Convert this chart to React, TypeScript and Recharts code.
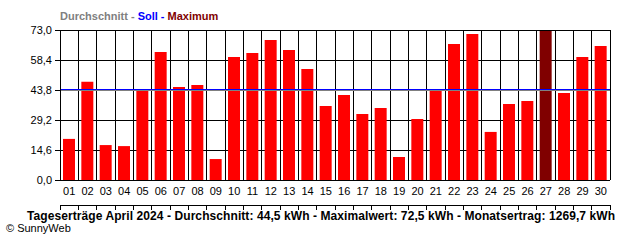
import { BarChart, Bar, XAxis, YAxis, CartesianGrid, ReferenceLine, Cell } from "recharts";

const days = [
  "01", "02", "03", "04", "05", "06", "07", "08", "09", "10",
  "11", "12", "13", "14", "15", "16", "17", "18", "19", "20",
  "21", "22", "23", "24", "25", "26", "27", "28", "29", "30",
];
const yields = [
  20.0, 47.8, 17.0, 16.5, 44.0, 62.3, 45.3, 46.2, 10.2, 59.9,
  61.8, 68.1, 63.3, 54.0, 36.0, 41.4, 32.1, 35.0, 11.2, 29.7,
  44.0, 66.2, 71.1, 23.4, 37.0, 38.4, 72.5, 42.3, 59.9, 65.2,
];
const yTicks = [0, 14.6, 29.2, 43.8, 58.4, 73.0];
const dayBounds = [
  0.5, 1.5, 2.5, 3.5, 4.5, 5.5, 6.5, 7.5, 8.5, 9.5, 10.5,
  11.5, 12.5, 13.5, 14.5, 15.5, 16.5, 17.5, 18.5, 19.5, 20.5,
  21.5, 22.5, 23.5, 24.5, 25.5, 26.5, 27.5, 28.5, 29.5, 30.5,
];
const average = 43.6;
const target = 44.2;
const maxDay = "27";

const data = days.map((d, i) => ({ day: i + 1, label: d, kwh: yields[i] }));

const FONT = '"Liberation Sans", Arial, sans-serif';
const RED = "#ff0000";
const DARK_RED = "#800000";
const GRAY = "#808080";
const BLUE = "#0000ff";

const fmt = (v: number) => v.toFixed(1).replace(".", ",");

export default function App() {
  return (
    <div style={{ position: "absolute", left: 0, top: 0, width: 640, height: 240, background: "#fff" }}>
      <style>{`.recharts-cartesian-grid line, .recharts-cartesian-axis line, .recharts-reference-line line { shape-rendering: crispEdges; }`}</style>
      <BarChart
        width={640}
        height={240}
        data={data}
        margin={{ top: 30, right: 30, bottom: 30, left: 10 }}
        barCategoryGap={3}
      >
        <CartesianGrid xAxisId="grid" stroke="#000" strokeOpacity={1} />
        <XAxis
          xAxisId="grid"
          dataKey="day"
          type="number"
          domain={[0.5, 30.5]}
          ticks={dayBounds}
          interval={0}
          height={5}
          tickSize={5}
          tickFormatter={() => ""}
          axisLine={{ stroke: "#000" }}
          tickLine={{ stroke: "#000" }}
        />
        <XAxis
          xAxisId="cat"
          dataKey="label"
          interval={0}
          height={25}
          axisLine={false}
          tickLine={false}
          tickSize={6}
          tickMargin={1}
          tick={{ fontSize: 11, fontFamily: FONT, fill: "#000" }}
        />
        <YAxis
          width={50}
          domain={[0, 73]}
          ticks={yTicks}
          interval={0}
          tickSize={5}
          tickMargin={3}
          tickFormatter={fmt}
          axisLine={{ stroke: "#000" }}
          tickLine={{ stroke: "#000" }}
          tick={{ fontSize: 11, fontFamily: FONT, fill: "#000" }}
        />
        <Bar xAxisId="cat" dataKey="kwh" isAnimationActive={false}>
          {data.map((entry) => (
            <Cell key={entry.label} fill={entry.label === maxDay ? DARK_RED : RED} />
          ))}
        </Bar>
        <ReferenceLine xAxisId="cat" y={average} stroke={GRAY} strokeWidth={1} />
        <ReferenceLine xAxisId="cat" y={target} stroke={BLUE} strokeWidth={1} />
      </BarChart>
      <svg width={640} height={240} style={{ position: "absolute", left: 0, top: 0, pointerEvents: "none" }}>
        <text x={60} y={20} fontFamily={FONT} fontSize={11} fontWeight="bold">
          <tspan fill={GRAY}>Durchschnitt - </tspan>
          <tspan fill={BLUE}>Soll - </tspan>
          <tspan fill={DARK_RED}>Maximum</tspan>
        </text>
        <text
          x={27}
          y={220}
          fontFamily={FONT}
          fontSize={12}
          fontWeight="bold"
          fill="#000"
          textLength={588}
          lengthAdjust="spacing"
        >
          Tageserträge April 2024 - Durchschnitt: 44,5 kWh - Maximalwert: 72,5 kWh - Monatsertrag: 1269,7 kWh
        </text>
        <text x={6} y={232} fontFamily={FONT} fontSize={11} fill="#000">
          © SunnyWeb
        </text>
      </svg>
    </div>
  );
}
